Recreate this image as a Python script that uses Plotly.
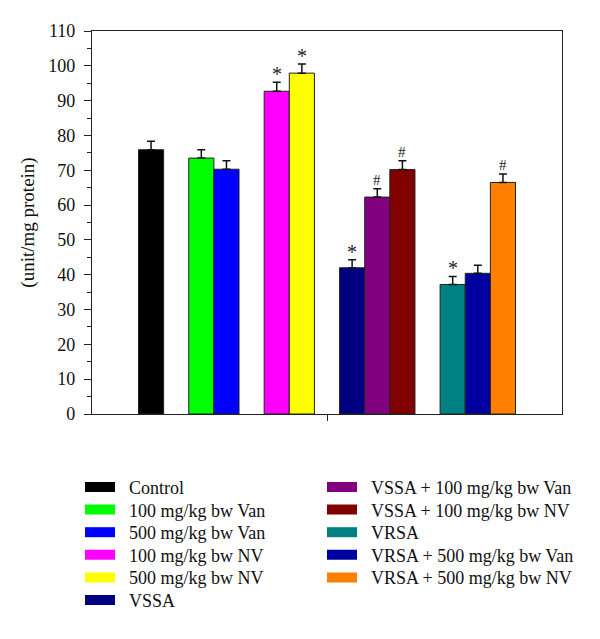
import plotly.graph_objects as go

# ---- data ----
labels = ["Control", "100 mg/kg bw Van", "500 mg/kg bw Van", "100 mg/kg bw NV",
          "500 mg/kg bw NV", "VSSA", "VSSA + 100 mg/kg bw Van", "VSSA + 100 mg/kg bw NV",
          "VRSA", "VRSA + 500 mg/kg bw Van", "VRSA + 500 mg/kg bw NV"]
values = [75.9, 73.5, 70.3, 92.7, 97.9, 42.0, 62.3, 70.2, 37.2, 40.4, 66.5]
errors = [2.4, 2.4, 2.4, 2.6, 2.6, 2.3, 2.4, 2.5, 2.3, 2.3, 2.4]
marks = ["", "", "", "*", "*", "*", "#", "#", "*", "", "#"]
group_sizes = [1, 2, 2, 3, 3]
colors = ["#000000", "#00FF00", "#0000FF", "#FF00FF", "#FFFF00", "#000080",
          "#800080", "#800000", "#008080", "#0000A0", "#FF8000"]
y_ticks = list(range(0, 111, 10))

# positions: bars of a group adjacent, one empty slot between groups
positions = []
slot = 0
for g in group_sizes:
    for k in range(g):
        positions.append(slot)
        slot += 1
    slot += 1
center = (positions[0] + positions[-1]) / 2

FONT = "Liberation Serif"
W, H = 592, 623
ML, MT, MR, MB = 84, 23, 38, 217
PW, PH = W - ML - MR, H - MT - MB

fig = go.Figure()
for i, lab in enumerate(labels):
    fig.add_trace(go.Bar(
        x=[positions[i]], y=[values[i]], width=1.0,
        marker=dict(color=colors[i], line=dict(color="#222222", width=1)),
        error_y=dict(type="data", array=[errors[i]], arrayminus=[0], color="#111111",
                     thickness=1.5, width=4),
        showlegend=False, name=lab))

# legend layout: two columns, one legend per entry for exact row spacing
n_left = 6
row_gap = 22.6
first_row_center = 479
col_left_px = [72, 314]
legend_layouts = {}
for i, lab in enumerate(labels):
    key = "legend" if i == 0 else f"legend{i + 1}"
    col = 0 if i < n_left else 1
    row = i if i < n_left else i - n_left
    top_px = first_row_center - 18.2 + row * row_gap
    legend_layouts[key] = dict(
        x=(col_left_px[col] - ML) / PW, y=(MT + PH - top_px) / PH,
        xanchor="left", yanchor="top", font=dict(family=FONT, size=18, color="#111"),
        bgcolor="rgba(0,0,0,0)", itemwidth=30)
    fig.add_trace(go.Scatter(
        x=[None], y=[None], mode="lines", name="\u00a0\u00a0" + lab,
        line=dict(color=colors[i], width=10), legend=key))

for i, m in enumerate(marks):
    if m:
        fig.add_annotation(x=positions[i], y=values[i] + errors[i], text=m,
                           showarrow=False, xref="x", yref="y",
                           yanchor="bottom", yshift=-5 if m == "*" else -1,
                           font=dict(family=FONT, size=20 if m == "*" else 15, color="#222"))

fig.update_layout(
    width=W, height=H,
    margin=dict(l=ML, r=MR, t=MT, b=MB, autoexpand=False),
    paper_bgcolor="white", plot_bgcolor="white",
    barmode="overlay",
    font=dict(family=FONT, size=18, color="#111"),
    xaxis=dict(range=[center - 9.35, center + 9.35], showgrid=False, zeroline=False,
               showline=True, mirror=True, linecolor="#222", linewidth=1.2,
               tickvals=[center], ticktext=[""], ticks="outside", ticklen=6,
               tickcolor="#222", tickwidth=1, automargin=False),
    yaxis=dict(range=[0, 110], tickvals=y_ticks, showgrid=False, zeroline=False,
               showline=True, mirror=True, linecolor="#222", linewidth=1.2,
               ticks="outside", ticklen=7, tickcolor="#222", tickwidth=1,
               ticklabelstandoff=5, automargin=False,
               minor=dict(dtick=5, ticks="outside", ticklen=4, tickcolor="#222"),
               title=dict(text="(unit/mg protein)", standoff=8,
                          font=dict(family=FONT, size=19)),
               tickfont=dict(family=FONT, size=18)),
    **legend_layouts,
)

fig.write_html("out.html")
